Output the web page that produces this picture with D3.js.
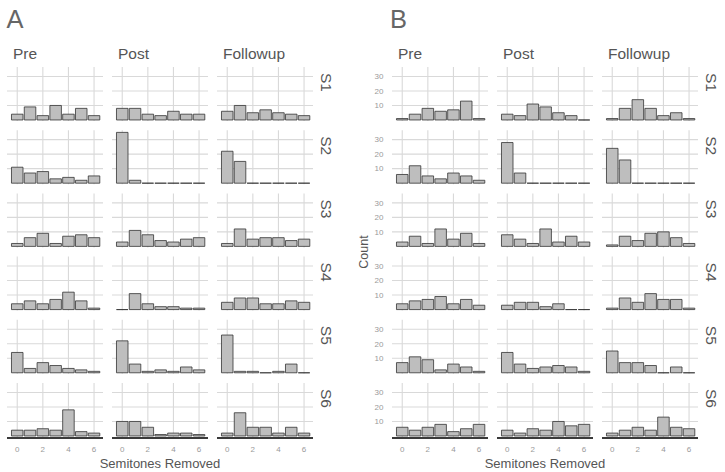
<!DOCTYPE html>
<html>
<head>
<meta charset="utf-8">
<script src="https://cdn.jsdelivr.net/npm/d3@7"></script>
<style>
  body { margin: 0; background: #fff; }
  svg { display: block; font-family: "Liberation Sans", Arial, sans-serif; }
</style>
</head>
<body>
<svg id="viz"></svg>
<script>
'use strict';

const bins = [0, 1, 2, 3, 4, 5, 6];
const phases = ['Pre', 'Post', 'Followup'];
const subjects = ['S1', 'S2', 'S3', 'S4', 'S5', 'S6'];
const xTicks = [0, 2, 4, 6];
const yTicks = [10, 20, 30];

// panel A, one row per subject, counts for semitones 0..6
const aPre = [
  [4, 9, 3, 10, 4, 8, 3],
  [11, 7, 8, 3, 4, 2, 5],
  [2, 6, 9, 2, 7, 8, 6],
  [4, 6, 4, 7, 12, 6, 1],
  [14, 3, 7, 5, 3, 2, 1],
  [4, 4, 5, 4, 18, 3, 2]
];
const aPost = [
  [8, 8, 4, 3, 6, 4, 4],
  [35, 2, 0, 0, 0, 0, 0],
  [3, 11, 8, 4, 3, 5, 6],
  [0, 11, 4, 2, 2, 1, 1],
  [22, 6, 1, 2, 1, 4, 2],
  [10, 10, 6, 1, 2, 2, 1]
];
const aFollowup = [
  [6, 10, 5, 7, 5, 4, 3],
  [22, 15, 0, 0, 0, 0, 0],
  [2, 12, 5, 6, 6, 4, 5],
  [5, 8, 8, 4, 4, 6, 5],
  [26, 1, 1, 0, 1, 6, 0],
  [2, 16, 6, 6, 2, 6, 2]
];

// panel B
const bPre = [
  [1, 4, 8, 6, 7, 13, 1],
  [6, 12, 5, 3, 7, 5, 2],
  [3, 7, 2, 12, 5, 9, 2],
  [4, 6, 7, 9, 4, 7, 3],
  [7, 11, 9, 2, 6, 4, 1],
  [6, 4, 6, 8, 3, 5, 8]
];
const bPost = [
  [4, 3, 11, 9, 5, 3, 0],
  [28, 7, 0, 0, 0, 0, 0],
  [8, 5, 2, 12, 3, 7, 3],
  [3, 5, 5, 2, 4, 0, 0],
  [14, 6, 3, 4, 5, 4, 1],
  [4, 2, 5, 4, 10, 7, 8]
];
const bFollowup = [
  [1, 8, 14, 8, 3, 5, 1],
  [24, 16, 0, 0, 0, 0, 0],
  [1, 7, 4, 9, 10, 6, 2],
  [1, 8, 5, 11, 7, 7, 1],
  [15, 7, 7, 5, 0, 4, 0],
  [2, 4, 6, 4, 13, 6, 5]
];

const width = 725;
const height = 472;

const panelW = 96;
const panelH = 54;
const colStep = 105;
const rowStep = 63.2;
const panelTop = 67;

const gridColor = '#d9d9d9';
const barFill = '#bebebe';
const barStroke = '#333';
const textColor = '#555';
const tickColor = '#9a9a9a';

const svg = d3.select('#viz')
  .attr('width', width)
  .attr('height', height);

const x = d3.scaleLinear().domain([-0.8, 6.7]).range([0, panelW]);
const y = d3.scaleLinear().domain([-0.7, 36.5]).range([panelH, 0]);

drawFigure(7, 'A', [aPre, aPost, aFollowup], false);
drawFigure(392, 'B', [bPre, bPost, bFollowup], true);

function drawFigure(left, letter, data, showY) {
  const g = svg.append('g').attr('transform', `translate(${left},0)`);

  g.append('text')
    .attr('x', letter === 'A' ? -0.5 : -2)
    .attr('y', 28.3)
    .style('font-size', '25.5px')
    .style('fill', '#666')
    .text(letter);

  phases.forEach((phase, c) => {
    g.append('text')
      .attr('x', c * colStep + 6)
      .attr('y', 59.3)
      .style('font-size', '15.5px')
      .style('fill', textColor)
      .text(phase);
  });

  subjects.forEach((s, r) => {
    const rowTop = panelTop + r * rowStep;

    phases.forEach((phase, c) => {
      const p = g.append('g')
        .attr('transform', `translate(${c * colStep},${rowTop})`);

      // grid
      p.selectAll('.vgrid')
        .data(xTicks)
        .enter()
        .append('line')
          .attr('x1', d => x(d))
          .attr('x2', d => x(d))
          .attr('y1', 0)
          .attr('y2', panelH)
          .attr('stroke', gridColor)
          .attr('stroke-width', 1.1);
      p.selectAll('.hgrid')
        .data(yTicks)
        .enter()
        .append('line')
          .attr('x1', 0)
          .attr('x2', panelW)
          .attr('y1', d => y(d))
          .attr('y2', d => y(d))
          .attr('stroke', gridColor)
          .attr('stroke-width', 1.1);

      // bars, drawn as paths so zero counts still show a line
      const counts = data[c][r];
      p.selectAll('.bar')
        .data(bins)
        .enter()
        .append('path')
          .attr('class', 'bar')
          .attr('d', b => {
            const x0 = x(b - 0.45), x1 = x(b + 0.45);
            const y0 = y(0), y1 = y(counts[b]);
            return `M${x0},${y0}H${x1}V${y1}H${x0}Z`;
          })
          .attr('fill', barFill)
          .attr('stroke', barStroke)
          .attr('stroke-width', 0.8);

      if (showY && c === 0) {
        p.selectAll('.ylab')
          .data(yTicks)
          .enter()
          .append('text')
            .attr('x', -8.5)
            .attr('y', d => y(d))
            .attr('dy', '0.35em')
            .attr('text-anchor', 'end')
            .style('font-size', '8px')
            .style('fill', tickColor)
            .text(d => d);
      }

      if (r === subjects.length - 1) {
        p.append('line')
          .attr('x1', 0)
          .attr('x2', panelW)
          .attr('y1', panelH + 1)
          .attr('y2', panelH + 1)
          .attr('stroke', '#3a3a3a')
          .attr('stroke-width', 1.8);
        p.selectAll('.xlab')
          .data(xTicks)
          .enter()
          .append('text')
            .attr('x', d => x(d))
            .attr('y', panelH + 12.5)
            .attr('dy', '0.35em')
            .attr('text-anchor', 'middle')
            .style('font-size', '8px')
            .style('fill', tickColor)
            .text(d => d);
      }
    });

    // strip label on the right
    g.append('text')
      .attr('transform', `translate(${2 * colStep + panelW + 13.5},${rowTop + 6}) rotate(90)`)
      .attr('dominant-baseline', 'central')
      .style('font-size', '15.5px')
      .style('fill', textColor)
      .text(s);
  });

  const facetW = 2 * colStep + panelW;
  g.append('text')
    .attr('x', facetW / 2)
    .attr('y', 468.3)
    .attr('text-anchor', 'middle')
    .style('font-size', '13px')
    .style('fill', textColor)
    .text('Semitones Removed');

  if (showY) {
    const midY = panelTop + (5 * rowStep + panelH) / 2;
    g.append('text')
      .attr('transform', `translate(-28,${midY}) rotate(-90)`)
      .attr('text-anchor', 'middle')
      .attr('dominant-baseline', 'central')
      .style('font-size', '12.5px')
      .style('fill', textColor)
      .text('Count');
  }
}
</script>
</body>
</html>
